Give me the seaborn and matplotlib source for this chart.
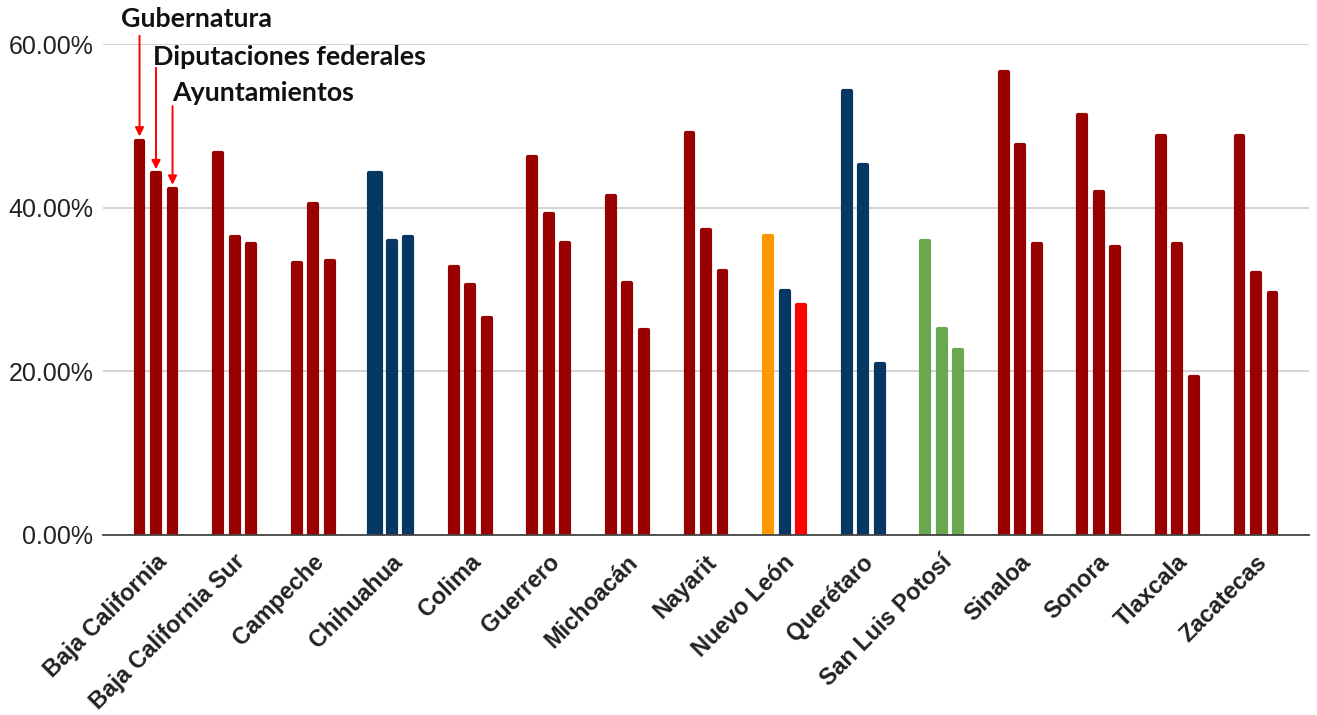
import matplotlib
matplotlib.use("Agg")
import matplotlib.pyplot as plt
import seaborn as sns
import pandas as pd
from matplotlib.ticker import FuncFormatter
from matplotlib.transforms import ScaledTranslation

# ---------------- data ----------------
estados = ["Baja California", "Baja California Sur", "Campeche", "Chihuahua", "Colima",
           "Guerrero", "Michoacán", "Nayarit", "Nuevo León", "Querétaro",
           "San Luis Potosí", "Sinaloa", "Sonora", "Tlaxcala", "Zacatecas"]
cargos = ["Gubernatura", "Diputaciones federales", "Ayuntamientos"]
gubernatura = [48.2, 46.7, 33.2, 44.2, 32.8, 46.2, 41.4, 49.1, 36.5, 54.2, 35.9, 56.6, 51.3, 48.7, 48.7]
diputaciones = [44.2, 36.4, 40.5, 35.9, 30.6, 39.2, 30.8, 37.3, 29.8, 45.2, 25.2, 47.7, 41.9, 35.5, 32.0]
ayuntamientos = [42.3, 35.5, 33.5, 36.4, 26.5, 35.7, 25.1, 32.3, 28.1, 20.9, 22.6, 35.6, 35.2, 19.3, 29.6]
y_ticks = [0, 20, 40, 60]

# ---------------- styles ----------------
DARKRED = "#990000"
NAVY = "#073763"
ORANGE = "#ff9900"
RED = "#ff0000"
GREEN = "#6aa84f"
state_colors = {e: [DARKRED] * 3 for e in estados}
state_colors["Chihuahua"] = [NAVY] * 3
state_colors["Querétaro"] = [NAVY] * 3
state_colors["San Luis Potosí"] = [GREEN] * 3
state_colors["Nuevo León"] = [ORANGE, NAVY, RED]

df = pd.DataFrame({
    "estado": estados * 3,
    "cargo": [c for c in cargos for _ in estados],
    "valor": gubernatura + diputaciones + ayuntamientos,
})

sns.set_style("white")
plt.rcParams["font.family"] = ["Liberation Sans", "DejaVu Sans"]

fig = plt.figure(figsize=(13.17, 7.15), dpi=100)
ax = fig.add_axes([103 / 1317, 1 - 535 / 715, 1206 / 1317, (535 - 44) / 715])

sns.barplot(data=df, x="estado", y="valor", hue="cargo", order=estados, hue_order=cargos,
            width=0.63, gap=0.52, dodge=True, legend=False, saturation=1, ax=ax,
            errorbar=None)

slot = 0.63 / 3
first_bars = {}
for p in ax.patches:
    xc = p.get_x() + p.get_width() / 2
    i = int(round(xc))
    j = int(round((xc - i) / slot)) + 1
    col = state_colors[estados[i]][j]
    p.set_facecolor(col)
    p.set_edgecolor(col)
    p.set_linewidth(3.0)
    p.set_joinstyle("round")
    if i == 0:
        first_bars[j] = p
    if estados[i] == "Chihuahua" and j == 0:
        w = p.get_width()
        p.set_x(xc - w * 0.75)
        p.set_width(w * 1.5)

ax.set_xlim(-0.675, 14.675)
ax.set_ylim(0, 60)
ax.set_yticks(y_ticks)
ax.yaxis.set_major_formatter(FuncFormatter(lambda v, _: f"{v:.2f}%"))
ax.grid(axis="y", color="#cccccc", lw=1.2)
ax.grid(axis="x", visible=False)
ax.set_axisbelow(True)
for s in ["top", "right", "left"]:
    ax.spines[s].set_visible(False)
ax.spines["bottom"].set_color("#444444")
ax.spines["bottom"].set_linewidth(1.3)
ax.spines["bottom"].set_zorder(5)
ax.set_xlabel("")
ax.set_ylabel("")
ax.tick_params(axis="y", length=0, pad=7, labelsize=18, labelcolor="#222222")
ax.tick_params(axis="x", length=0, pad=17, labelsize=16.8, labelcolor="#222222")
shift = ScaledTranslation(7 / 100, 0, fig.dpi_scale_trans)
for lbl in ax.get_xticklabels():
    lbl.set_rotation(45)
    lbl.set_ha("right")
    lbl.set_va("center")
    lbl.set_rotation_mode("anchor")
    lbl.set_fontweight("bold")
    lbl.set_transform(lbl.get_transform() + shift)

# ---------------- annotations ----------------
arrow_start = [61.0, 57.1, 52.4]
text_y = [63.1, 58.4, 54.0]
text_dx = [0.24, 0.04, 0.0]
for j, cargo in enumerate(cargos):
    p = first_bars[j]
    xc = p.get_x() + p.get_width() / 2
    top = p.get_height()
    ax.annotate("", xy=(xc, top + 0.5), xytext=(xc, arrow_start[j]),
                arrowprops=dict(arrowstyle="-|>", color=RED, lw=1.4,
                                mutation_scale=13, shrinkA=0, shrinkB=0),
                annotation_clip=False)
    ax.text(xc - text_dx[j], text_y[j], cargo, ha="left", va="center",
            fontsize=19.3, fontweight="bold", family=["Lato", "DejaVu Sans"],
            color="#111111", clip_on=False)

fig.savefig("out.png", dpi=100, facecolor="white")
